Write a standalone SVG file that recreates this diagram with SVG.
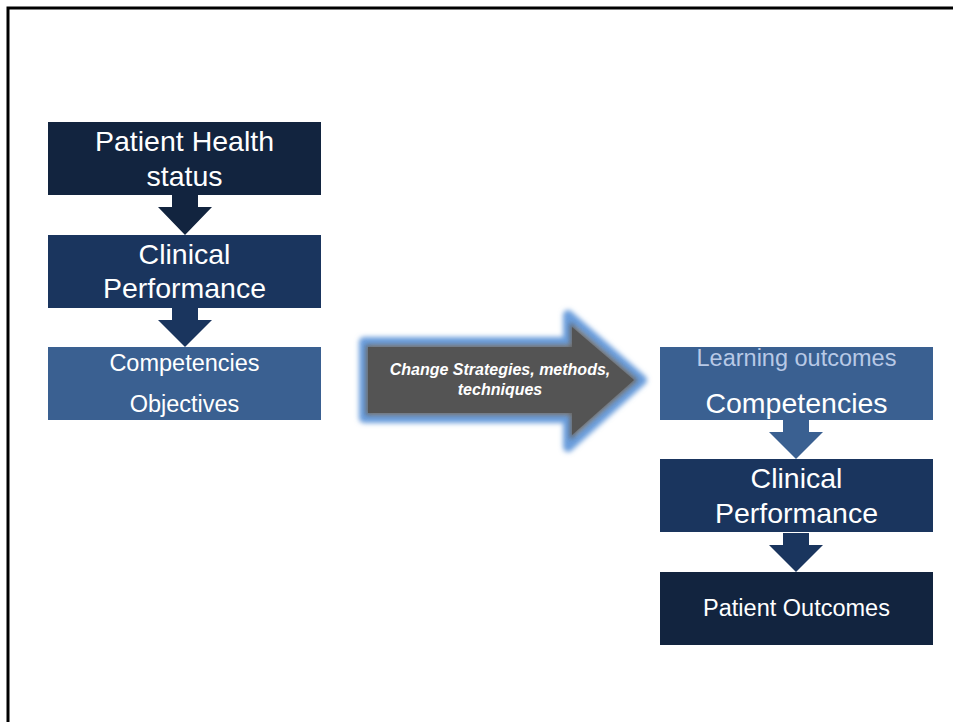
<svg xmlns="http://www.w3.org/2000/svg" width="953" height="722" viewBox="0 0 953 722">
<defs>
<style>
.t{font-family:"Liberation Sans","Open Sans",sans-serif;fill:#ffffff;text-anchor:middle}
.big{font-size:28.5px}
.med{font-size:23.5px}
.lt{fill:#b8c9e6}
.c1{fill:#12243f}
.c2{fill:#1a355e}
.c3{fill:#3a6091}
</style>
<filter id="glow" x="-10%" y="-20%" width="120%" height="140%">
<feGaussianBlur stdDeviation="2.5"/>
</filter>
</defs>
<rect width="953" height="722" fill="#ffffff"/>
<path d="M8 722 V8 H953" fill="none" stroke="#000" stroke-width="3"/>
<g id="connectors">
<polygon class="c1" points="172,195 198,195 198,207 212,207 185,235 158,207 172,207"/>
<polygon class="c2" points="172,308 198,308 198,320 212,320 185,347 158,320 172,320"/>
<polygon class="c3" points="783,420 809,420 809,432 823,432 796,459 769,432 783,432"/>
<polygon class="c2" points="783,533 809,533 809,545 823,545 796,572 769,545 783,545"/>
</g>
<g id="n1"><rect class="c1" x="48" y="122" width="273" height="73"/>
<text class="t big" x="184.5" y="151">Patient Health</text><text class="t big" x="184.5" y="186">status</text></g>
<g id="n2"><rect class="c2" x="48" y="235" width="273" height="73"/>
<text class="t big" x="184.5" y="264">Clinical</text><text class="t big" x="184.5" y="298">Performance</text></g>
<g id="n3"><rect class="c3" x="48" y="347" width="273" height="73"/>
<text class="t med" x="184.5" y="371">Competencies</text><text class="t med" x="184.5" y="412">Objectives</text></g>
<g id="mid">
<polygon points="364,342 568,342 568,315 642,380 568,447 568,418 364,418" fill="none" stroke="#6b9ddb" stroke-width="10" stroke-linejoin="round" filter="url(#glow)"/>
<polygon points="366,345 570,345 570,322 638,380 570,440 570,415 366,415" fill="#555555" filter="url(#glow)" opacity="0.9"/>
<polygon points="368,347 572,347 572,327 634,380 572,435 572,413 368,413" fill="#545454"/>
<text class="t" x="500" y="375" font-size="16" font-weight="bold" font-style="italic">Change Strategies, methods,</text>
<text class="t" x="500" y="395" font-size="16" font-weight="bold" font-style="italic">techniques</text>
</g>
<g id="n4"><rect class="c3" x="660" y="347" width="273" height="73"/>
<text class="t med lt" x="796.5" y="366">Learning outcomes</text><text class="t big" x="796.5" y="413">Competencies</text></g>
<g id="n5"><rect class="c2" x="660" y="459" width="273" height="73"/>
<text class="t big" x="796.5" y="488">Clinical</text><text class="t big" x="796.5" y="523">Performance</text></g>
<g id="n6"><rect class="c1" x="660" y="572" width="273" height="73"/>
<text class="t med" x="796.5" y="616">Patient Outcomes</text></g>
</svg>
